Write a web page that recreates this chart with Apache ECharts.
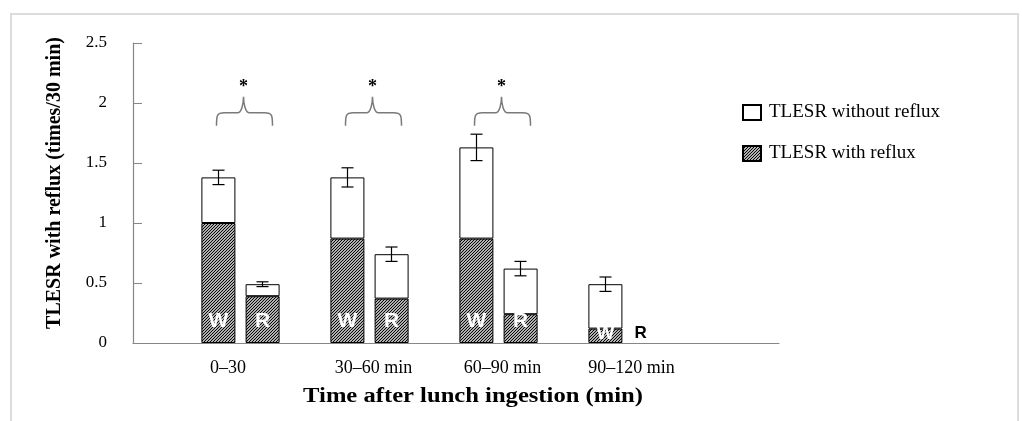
<!DOCTYPE html>
<html>
<head>
<meta charset="utf-8">
<script src="https://cdn.jsdelivr.net/npm/echarts@6/dist/echarts.min.js"></script>
<style>
html,body{margin:0;padding:0;background:#fff;}
#chart{width:1022px;height:421px;}
</style>
</head>
<body>
<div id="chart"></div>
<script>
// ---- data ----
const categories = ['0–30', '30–60 min', '60–90 min', '90–120 min'];
const wWith  = [1.00, 0.87, 0.87, 0.12];   // W bars, TLESR with reflux
const wTotal = [1.38, 1.38, 1.63, 0.49];   // W bars, total TLESR
const wErr   = [0.06, 0.08, 0.11, 0.06];
const rWith  = [0.39, 0.37, 0.24, 0.00];   // R bars, TLESR with reflux
const rTotal = [0.49, 0.74, 0.62, 0.00];   // R bars, total TLESR
const rErr   = [0.02, 0.06, 0.06, 0.00];
const sigMarks = ['*', '*', '*', ''];
const braceLevel = [1.81, 1.81, 1.81, null];
const yAxisName = 'TLESR with reflux (times/30 min)';
const xAxisName = 'Time after lunch ingestion (min)';
const legendNames = ['TLESR without reflux', 'TLESR with reflux'];

// ---- styles ----
const SERIF = "'Liberation Serif','Times New Roman',serif";
const SANS = "'Liberation Sans',Arial,sans-serif";
const AXIS_GREY = '#868686';

function hatchPattern() {
  const s = 3;
  const c = document.createElement('canvas');
  c.width = s; c.height = s;
  const g = c.getContext('2d');
  g.fillStyle = '#fff'; g.fillRect(0, 0, s, s);
  g.strokeStyle = '#000'; g.lineWidth = 1.2;
  g.beginPath();
  g.moveTo(0, s); g.lineTo(s, 0);
  g.moveTo(-1, 1); g.lineTo(1, -1);
  g.moveTo(s - 1, s + 1); g.lineTo(s + 1, s - 1);
  g.stroke();
  return c;
}
const hatch = { image: hatchPattern(), repeat: 'repeat' };

const wWithout = wTotal.map((t, i) => +(t - wWith[i]).toFixed(2));
const rWithout = rTotal.map((t, i) => +(t - rWith[i]).toFixed(2));

const BAR_W = 34;
const OFF = 22;

function errRender(offset) {
  return function (params, api) {
    const e = api.value(2);
    if (!(e > 0)) return;
    const cat = api.value(0), v = api.value(1);
    const c = api.coord([cat, v]);
    const hi = api.coord([cat, v + e]);
    const lo = api.coord([cat, v - e]);
    const x = c[0] + offset;
    const st = { stroke: '#000', lineWidth: 1.2 };
    return {
      type: 'group',
      children: [
        { type: 'line', shape: { x1: x, y1: hi[1], x2: x, y2: lo[1] }, style: st },
        { type: 'line', shape: { x1: x - 6, y1: hi[1], x2: x + 6, y2: hi[1] }, style: st },
        { type: 'line', shape: { x1: x - 6, y1: lo[1], x2: x + 6, y2: lo[1] }, style: st }
      ]
    };
  };
}

function braceRender(params, api) {
  const cat = api.value(0), lvl = api.value(1);
  const p = api.coord([cat, lvl]);
  const xL = p[0] - 24, xR = p[0] + 32, xM = p[0] + 3;
  const yb = p[1], ya = yb - 13, yp = yb - 29;
  const d = `M${xL} ${yb} C${xL} ${ya + 3} ${xL} ${ya} ${xL + 8} ${ya} L${xM - 6} ${ya} ` +
            `C${xM - 2} ${ya} ${xM} ${yp + 7} ${xM} ${yp} C${xM} ${yp + 7} ${xM + 2} ${ya} ${xM + 6} ${ya} ` +
            `L${xR - 8} ${ya} C${xR} ${ya} ${xR} ${ya + 3} ${xR} ${yb}`;
  return {
    type: 'group',
    children: [
      { type: 'path', shape: { pathData: d }, style: { fill: 'none', stroke: '#7a7a7a', lineWidth: 1.5 } },
      { type: 'text', style: { text: sigMarks[cat], x: xM, y: yp - 9, align: 'center', verticalAlign: 'middle',
          font: "bold 18px " + SERIF, fill: '#000' } }
    ]
  };
}

const letterLabel = (txt) => ({
  show: true, position: 'insideBottom', distance: 11, formatter: txt,
  color: '#fff', fontWeight: 'bold', fontSize: 21, fontFamily: SANS
});

const noBorder = { borderWidth: 0 };

const option = {
  animation: false,
  backgroundColor: '#fff',
  graphic: [
    { type: 'rect', shape: { x: 11, y: 14, width: 1007, height: 430 },
      style: { fill: 'none', stroke: '#dcdcdc', lineWidth: 2 }, silent: true },
    { type: 'text', x: 473, y: 397, scaleX: 1.23, style: { text: xAxisName, x: 0, y: 0, align: 'center', verticalAlign: 'middle',
        font: "bold 20px " + SERIF, fill: '#000' } }
  ],
  legend: {
    data: legendNames,
    orient: 'vertical',
    left: 737, top: 98,
    itemWidth: 18, itemHeight: 15, itemGap: 22,
    icon: 'rect',
    textStyle: { fontFamily: SERIF, fontSize: 19, color: '#000', padding: [0, 0, 0, 3] }
  },
  grid: [
    { left: 133, right: 243, top: 43, bottom: 78 },
    { left: 176, width: 516, top: 43, bottom: 78 }
  ],
  xAxis: [
    { type: 'value', gridIndex: 0, min: 0, max: 1,
      axisLine: { show: true, lineStyle: { color: AXIS_GREY, width: 1.2 } },
      axisTick: { show: false }, axisLabel: { show: false }, splitLine: { show: false } },
    { type: 'category', gridIndex: 1, data: categories,
      axisLine: { show: false }, axisTick: { show: false },
      axisLabel: {
        interval: 0, hideOverlap: false,
        margin: 16, color: '#000', fontFamily: SERIF, fontSize: 18,
        formatter: (v, i) => i === 0 ? '{a|' + v + '}' : '{b|' + v + '}',
        rich: {
          a: { fontFamily: SERIF, fontSize: 18, color: '#000', padding: [0, 25, 0, 0] },
          b: { fontFamily: SERIF, fontSize: 18, color: '#000', padding: [0, 0, 0, 8] }
        }
      } }
  ],
  yAxis: [
    { type: 'value', gridIndex: 0, min: 0, max: 2.5, interval: 0.5,
      axisLine: { show: true, lineStyle: { color: AXIS_GREY, width: 1.2 } },
      axisTick: { show: true, inside: true, length: 9, lineStyle: { color: AXIS_GREY } },
      axisLabel: { margin: 26, color: '#000', fontFamily: SERIF, fontSize: 17 },
      splitLine: { show: false },
      name: yAxisName, nameLocation: 'middle', nameGap: 68,
      nameTextStyle: { fontFamily: SERIF, fontWeight: 'bold', fontSize: 20, color: '#000', padding: [0, 0, 0, 20] } },
    { type: 'value', gridIndex: 1, min: 0, max: 2.5, interval: 0.5, show: false }
  ],
  series: [
    { name: legendNames[1], type: 'bar', xAxisIndex: 1, yAxisIndex: 1, stack: 'W', barWidth: BAR_W, barGap: '30%',
      itemStyle: { color: hatch, borderColor: '#000', borderWidth: 1 },
      label: letterLabel('W'),
      data: wWith.map((v, i) => i === 3 ? { value: v, label: { distance: 0, fontSize: 19 } } : v) },
    { name: legendNames[0], type: 'bar', xAxisIndex: 1, yAxisIndex: 1, stack: 'W', barWidth: BAR_W, barGap: '30%',
      itemStyle: { color: '#fff', borderColor: '#000', borderWidth: 1 },
      data: wWithout.map(v => v === 0 ? { value: v, itemStyle: noBorder } : v) },
    { name: legendNames[1], type: 'bar', xAxisIndex: 1, yAxisIndex: 1, stack: 'R', barWidth: BAR_W, barGap: '30%',
      itemStyle: { color: hatch, borderColor: '#000', borderWidth: 1 },
      label: letterLabel('R'),
      data: rWith.map(v => v === 0 ? { value: v, itemStyle: noBorder,
        label: { color: '#000', fontSize: 17, distance: 1, offset: [-9, 0] } } : v) },
    { name: legendNames[0], type: 'bar', xAxisIndex: 1, yAxisIndex: 1, stack: 'R', barWidth: BAR_W, barGap: '30%',
      itemStyle: { color: '#fff', borderColor: '#000', borderWidth: 1 },
      data: rWithout.map(v => v === 0 ? { value: v, itemStyle: noBorder } : v) },
    { name: 'errW', type: 'custom', xAxisIndex: 1, yAxisIndex: 1, z: 5,
      renderItem: errRender(-OFF), encode: { x: 0, y: 1 },
      data: wTotal.map((v, i) => [i, v, wErr[i]]) },
    { name: 'errR', type: 'custom', xAxisIndex: 1, yAxisIndex: 1, z: 5,
      renderItem: errRender(OFF), encode: { x: 0, y: 1 },
      data: rTotal.map((v, i) => [i, v, rErr[i]]) },
    { name: 'sig', type: 'custom', xAxisIndex: 1, yAxisIndex: 1, z: 5,
      renderItem: braceRender, encode: { x: 0, y: 1 },
      data: braceLevel.map((v, i) => [i, v]).filter(d => d[1] !== null) }
  ]
};

const chart = echarts.init(document.getElementById('chart'), null, { renderer: 'canvas' });
chart.setOption(option);
</script>
</body>
</html>
